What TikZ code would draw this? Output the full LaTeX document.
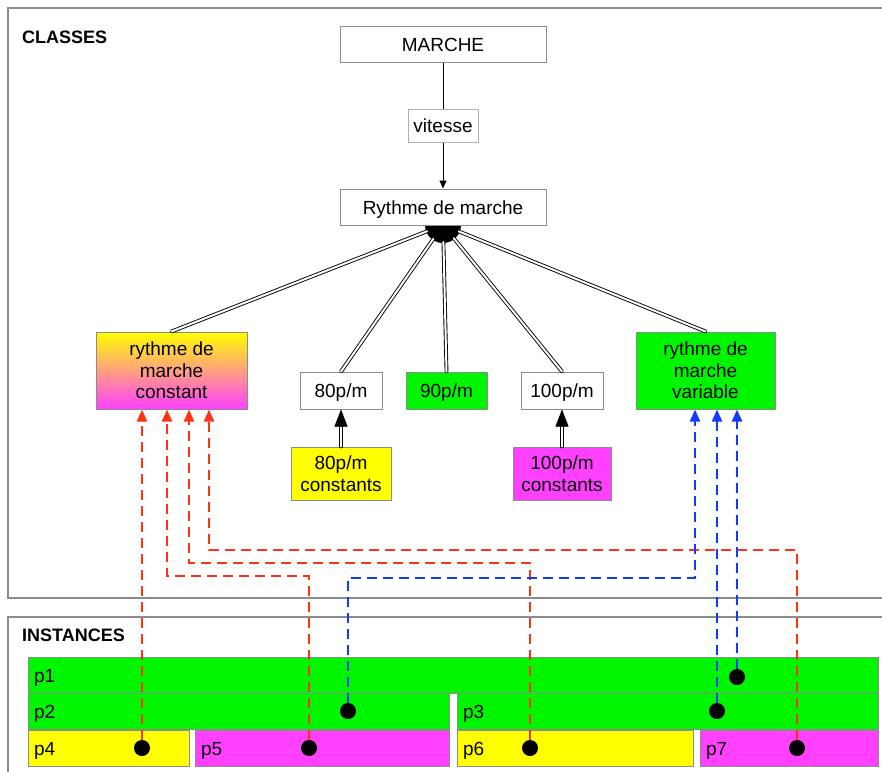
\documentclass[tikz,border=0pt]{standalone}
\usepackage{fontspec}
\setmainfont{Liberation Sans}
\usetikzlibrary{arrows.meta,positioning}
\definecolor{edgegray}{RGB}{140,140,140}
\definecolor{instgreen}{RGB}{0,245,0}
\definecolor{instyellow}{RGB}{255,255,0}
\definecolor{instmagenta}{RGB}{255,64,255}
\definecolor{linkred}{RGB}{255,51,17}
\definecolor{linkblue}{RGB}{17,60,255}
\tikzset{
      framebox/.style={draw=edgegray, line width=2pt},
      titletext/.style={anchor=west, inner sep=0pt, font=\fontsize{18}{21}\selectfont\bfseries},
      classbox/.style={
        draw=edgegray,
        line width=1pt,
        fill=white,
        align=center,
        inner sep=0pt
      },
      oneline/.style={text height=14.5pt, text depth=0pt},
      lblbox/.style={draw=edgegray!70, line width=0.8pt, fill=white, minimum width=70pt, minimum height=33pt, inner sep=0pt, oneline},
      instbox/.style 2 args={
        draw=edgegray,
        line width=1pt,
        fill=#1,
        text width=#2,
        align=left,
        inner xsep=6pt,
        inner ysep=0pt,
        minimum height=36pt,
        oneline
      },
      instdot/.style={circle, fill=black, minimum size=16pt, inner sep=0pt},
      dblline/.style={double, double distance=2pt, line width=0.9pt, line cap=round},
      redlink/.style={draw=linkred, line width=2.2pt, dash pattern=on 10pt off 6pt, -{Triangle[length=12pt,width=10pt]}},
      bluelink/.style={draw=linkblue, line width=2.2pt, dash pattern=on 10pt off 6pt, -{Triangle[length=12pt,width=10pt]}}
    }
\begin{document}
\begin{tikzpicture}[x=1pt,y=-1pt,font=\fontsize{19}{21.5}\selectfont]
    \useasboundingbox (0,0) rectangle (882,771);
    \draw[framebox] (8,8) rectangle (900,598);
    \draw[framebox] (8,617) rectangle (900,800);
    \node[titletext] (classes) at (22,37) {CLASSES};
    \node[titletext] (instances) at (22,635) {INSTANCES};

    \coordinate (hub) at (443,225);
    \fill (hub) circle (18);

    \node[classbox, oneline, minimum width=206pt, minimum height=36pt] (marche) at (443,44) {MARCHE};
    \node[classbox, oneline, minimum width=206pt, minimum height=36pt] (rythme) at (443,207) {Rythme de marche};
    \node[classbox, minimum width=151pt, minimum height=77pt, fill=none, top color=instyellow, bottom color=instmagenta] (const) at (171.5,370.5) {rythme de\\marche\\constant};
    \node[classbox, oneline, minimum width=82pt, minimum height=37pt] (p80) at (341,390.5) {80p/m};
    \node[classbox, oneline, minimum width=81pt, minimum height=37pt, fill=instgreen] (p90) at (446.5,390.5) {90p/m};
    \node[classbox, oneline, minimum width=82pt, minimum height=37pt] (p100) at (562,390.5) {100p/m};
    \node[classbox, minimum width=139pt, minimum height=77pt, fill=instgreen] (var) at (705.5,370.5) {rythme de\\marche\\variable};
    \node[classbox, minimum width=100pt, minimum height=53pt, fill=instyellow] (c80) at (341,473.5) {80p/m\\constants};
    \node[classbox, minimum width=98pt, minimum height=53pt, fill=instmagenta] (c100) at (562,473.5) {100p/m\\constants};

    \draw[-{Triangle[length=8pt,width=7pt]}, line width=0.8pt] (marche) -- node[lblbox] (vit) {vitesse} (rythme);

    \draw[dblline, shorten <=17pt] (hub) -- (const.north);
    \draw[dblline, shorten <=17pt] (hub) -- (p80.north);
    \draw[dblline, shorten <=17pt] (hub) -- (p90.north);
    \draw[dblline, shorten <=17pt] (hub) -- (p100.north);
    \draw[dblline, shorten <=17pt] (hub) -- (var.north);

    \draw[dblline] (c80.north) -- ([yshift=-15pt]p80.south);
    \draw[-{Triangle[length=17pt,width=13pt]}, line width=0.5pt] ([yshift=-17pt]p80.south) -- (p80.south);
    \draw[dblline] (c100.north) -- ([yshift=-15pt]p100.south);
    \draw[-{Triangle[length=17pt,width=13pt]}, line width=0.5pt] ([yshift=-17pt]p100.south) -- (p100.south);

    \node[instbox={instgreen}{838pt}] (p1) at (453,675) {p1};
    \node[instbox={instgreen}{409pt}] (p2) at (238.5,711.5) {p2};
    \node[instbox={instgreen}{409pt}] (p3) at (667.5,711.5) {p3};
    \node[instbox={instyellow}{149pt}] (p4) at (108.5,748) {p4};
    \node[instbox={instmagenta}{242pt}] (p5) at (322,748) {p5};
    \node[instbox={instyellow}{224pt}] (p6) at (575,748) {p6};
    \node[instbox={instmagenta}{166pt}] (p7) at (789,748) {p7};

    \node[instdot] (d1) at (737,677) {};
    \node[instdot] (d2) at (348,711) {};
    \node[instdot] (d3) at (717,711) {};
    \node[instdot] (d4) at (142,748) {};
    \node[instdot] (d5) at (309,748) {};
    \node[instdot] (d6) at (530,748) {};
    \node[instdot] (d7) at (797,748) {};

    \draw[redlink] (d4) -- (d4 |- const.south);
    \draw[redlink] (d5) -- (d5 |- 0,576) -| ([xshift=-4.5pt]const.south);
    \draw[redlink] (d6) -- (d6 |- 0,563) -| ([xshift=17.5pt]const.south);
    \draw[redlink] (d7) -- (d7 |- 0,550) -| ([xshift=37.5pt]const.south);
    \draw[bluelink] (d2) -- (d2 |- 0,578) -| ([xshift=-10.5pt]var.south);
    \draw[bluelink] (d3) -- (d3 |- var.south);
    \draw[bluelink] (d1) -- (d1 |- var.south);
    \end{tikzpicture}
\end{document}
